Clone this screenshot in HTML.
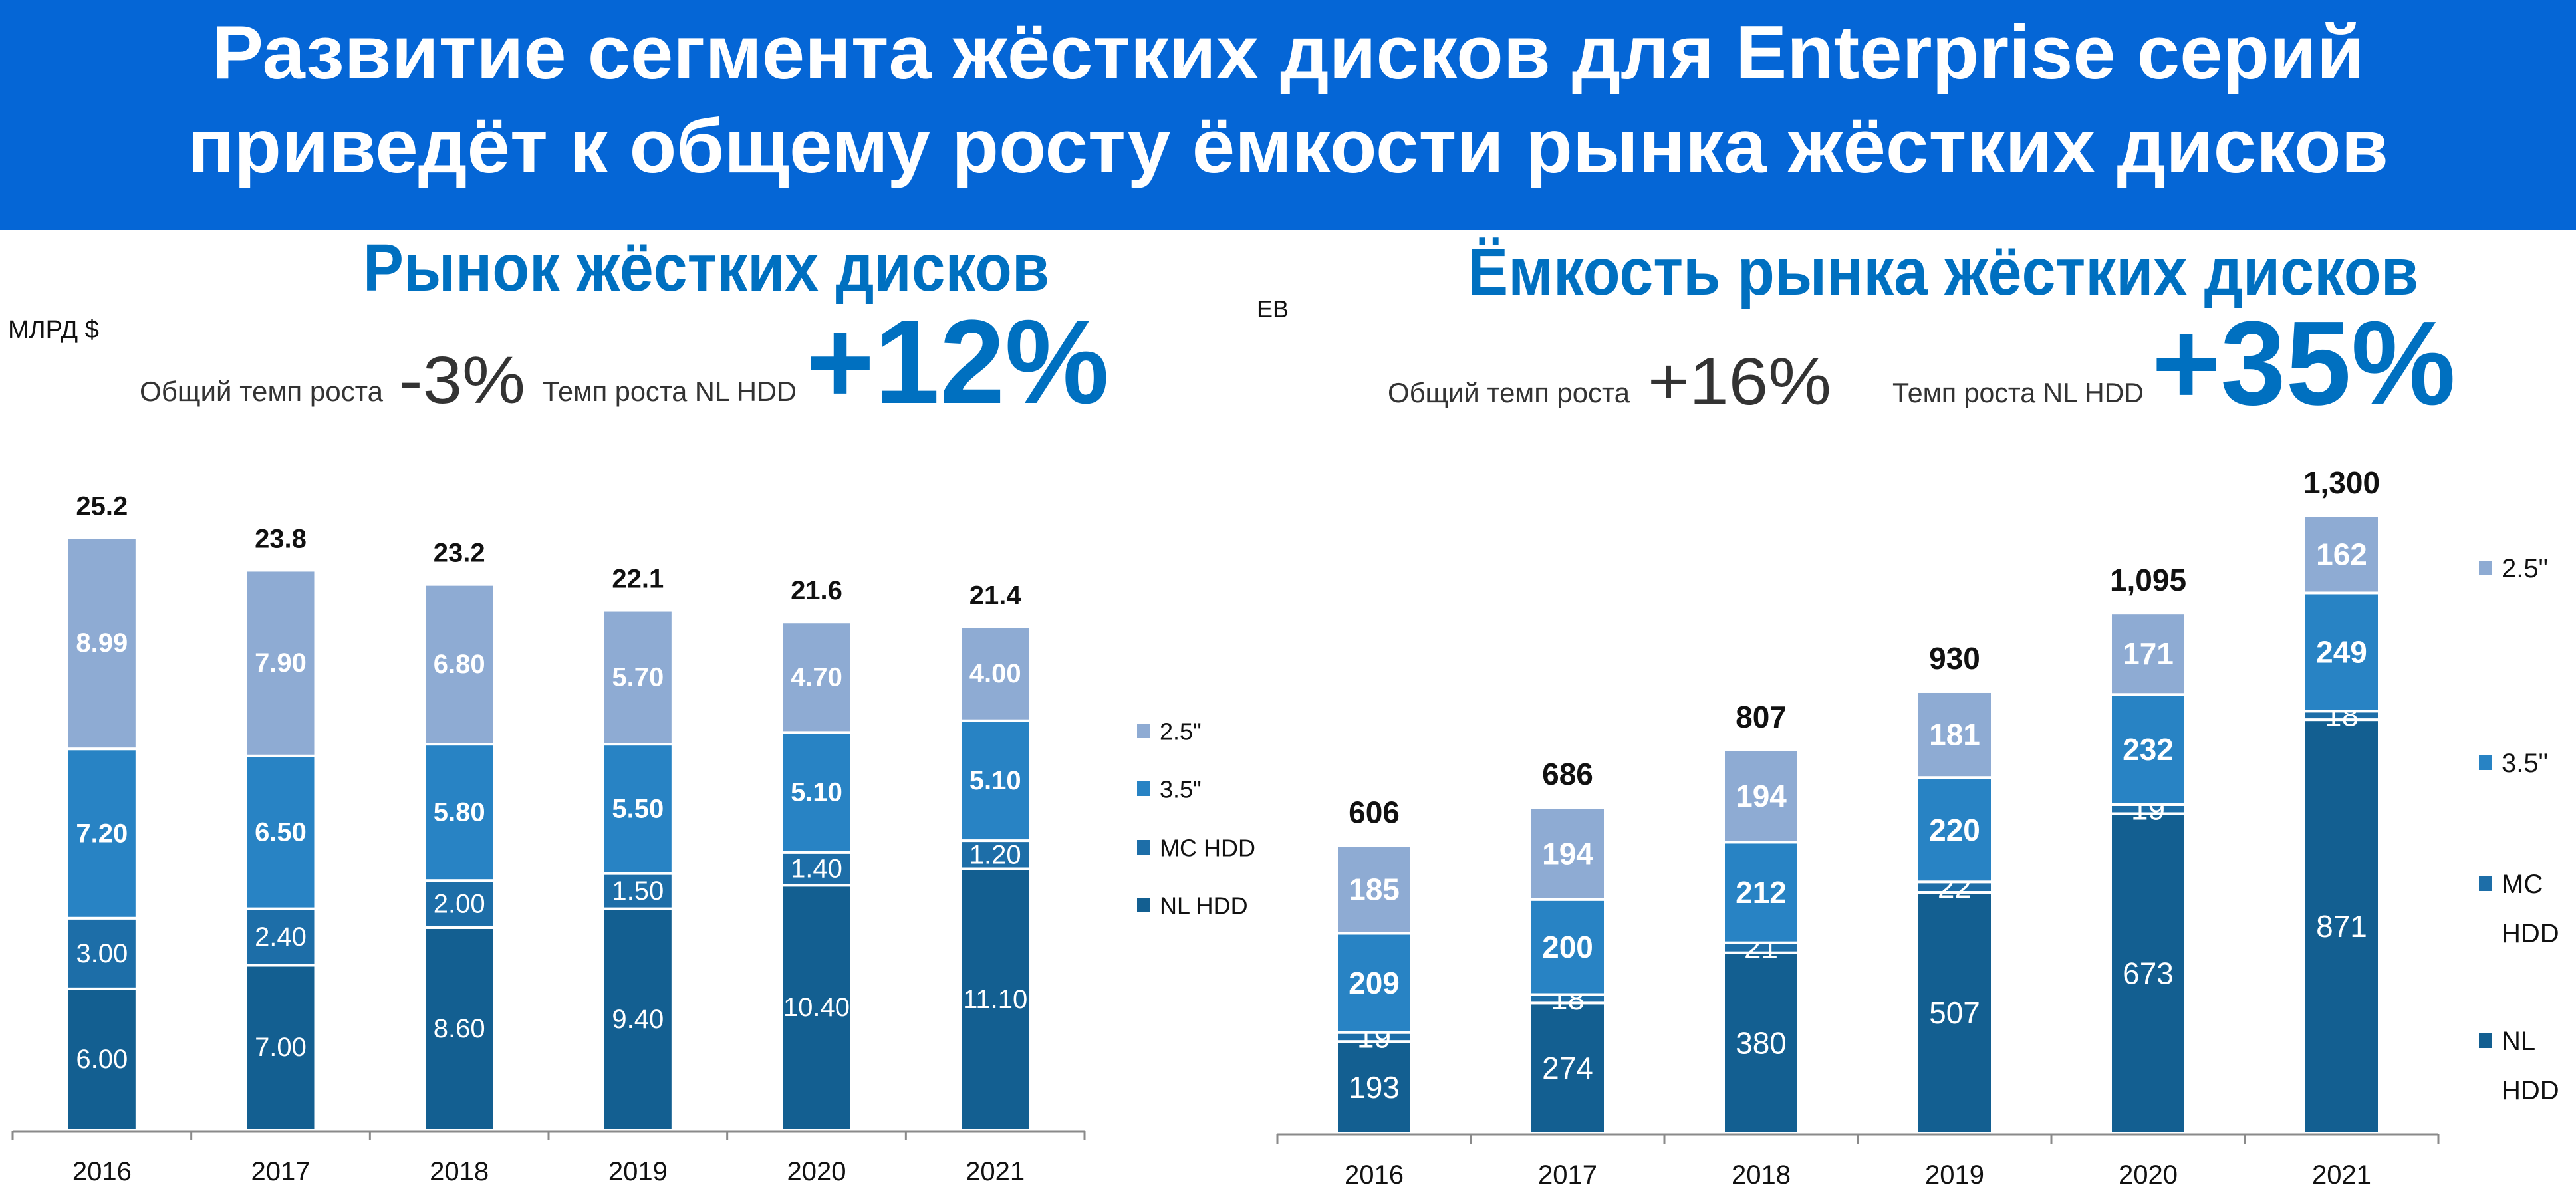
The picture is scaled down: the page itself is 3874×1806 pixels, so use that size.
<!DOCTYPE html>
<html><head><meta charset="utf-8"><style>
html,body{margin:0;padding:0;background:#fff}
svg{display:block}
text{font-family:"Liberation Sans","DejaVu Sans",sans-serif}
.n{font-family:"Liberation Sans Narrow","Liberation Sans",sans-serif}
</style></head><body>
<svg id="s" width="3874" height="1806" viewBox="0 0 3874 1806" xmlns="http://www.w3.org/2000/svg">
<rect x="0" y="0" width="3874" height="346" fill="#0566d6"/>
<text x="1937" y="118" text-anchor="middle" font-size="114" font-weight="bold" fill="#fff" textLength="3236" lengthAdjust="spacingAndGlyphs">Развитие сегмента жёстких дисков для Enterprise серий</text>
<text x="1937" y="259" text-anchor="middle" font-size="114" font-weight="bold" fill="#fff" textLength="3310" lengthAdjust="spacingAndGlyphs">приведёт к общему росту ёмкости рынка жёстких дисков</text>

<text x="1062" y="437" text-anchor="middle" font-size="100" font-weight="bold" fill="#0070c0" textLength="1032" lengthAdjust="spacingAndGlyphs">Рынок жёстких дисков</text>
<text class="n" x="12" y="508" font-size="38" fill="#111">МЛРД $</text>
<text class="n" x="210" y="603" font-size="42" fill="#333" textLength="366" lengthAdjust="spacingAndGlyphs">Общий темп роста</text>
<text class="n" x="600" y="606" font-size="100" fill="#333" textLength="190" lengthAdjust="spacingAndGlyphs">-3%</text>
<text class="n" x="816" y="603" font-size="42" fill="#333" textLength="382" lengthAdjust="spacingAndGlyphs">Темп роста NL HDD</text>
<text x="1212" y="606" font-size="180" font-weight="bold" fill="#0070c0" textLength="456" lengthAdjust="spacingAndGlyphs">+12%</text>

<text x="2922" y="443" text-anchor="middle" font-size="100" font-weight="bold" fill="#0070c0" textLength="1430" lengthAdjust="spacingAndGlyphs">Ёмкость рынка жёстких дисков</text>
<text class="n" x="1890" y="477" font-size="36" fill="#111">EB</text>
<text class="n" x="2087" y="605" font-size="42" fill="#333" textLength="364" lengthAdjust="spacingAndGlyphs">Общий темп роста</text>
<text class="n" x="2478" y="608" font-size="100" fill="#333" textLength="276" lengthAdjust="spacingAndGlyphs">+16%</text>
<text class="n" x="2846" y="605" font-size="42" fill="#333" textLength="378" lengthAdjust="spacingAndGlyphs">Темп роста NL HDD</text>
<text x="3236" y="608" font-size="180" font-weight="bold" fill="#0070c0" textLength="457" lengthAdjust="spacingAndGlyphs">+35%</text>
<g id="charts"></g>
</svg>
<script>
const years = ["2016","2017","2018","2019","2020","2021"];
const leftNL = [6.00,7.00,8.60,9.40,10.40,11.10];
const leftMC = [3.00,2.40,2.00,1.50,1.40,1.20];
const left35 = [7.20,6.50,5.80,5.50,5.10,5.10];
const left25 = [8.99,7.90,6.80,5.70,4.70,4.00];
const leftTotals = ["25.2","23.8","23.2","22.1","21.6","21.4"];
const rightNL = [193,274,380,507,673,871];
const rightMC = [19,18,21,22,19,18];
const right35 = [209,200,212,220,232,249];
const right25 = [185,194,194,181,171,162];
const rightTotals = ["606","686","807","930","1,095","1,300"];
const seriesNames = ["NL HDD","MC HDD","3.5\"","2.5\""];

const NS="http://www.w3.org/2000/svg";
const root=document.getElementById('charts');
const colors=["#135f91","#1d6ea8","#2883c4","#8eabd3"];
function mk(tag,attrs,parent){const e=document.createElementNS(NS,tag);for(const k in attrs)e.setAttribute(k,attrs[k]);(parent||root).appendChild(e);return e;}

function chart(cfg){
  const g=mk('g',{});
  
  
  const band=(cfg.x1-cfg.x0)/years.length;
  const xc=i=>cfg.x0+band*(i+0.5);
  const yv=v=>cfg.base-v*cfg.scale;
  const series=[cfg.nl,cfg.mc,cfg.s35,cfg.s25];
  years.forEach((yr,i)=>{
    let cum=0;
    const x=xc(i)-cfg.bw/2;
    series.forEach((arr,si)=>{
      const v=arr[i];
      const yt=yv(cum+v), yb=yv(cum);
      const r=mk('rect',{x:x,y:yt,width:cfg.bw,height:yb-yt,fill:colors[si],stroke:'#fff','stroke-width':4},g);
      
      
      const t=mk('text',{x:xc(i),y:(yt+yb)/2,'text-anchor':'middle','dominant-baseline':'central','font-size':cfg.lf,fill:'#fff','font-weight':si>=2?'bold':'normal',class:'n'},g);
      t.textContent=cfg.fmt(v);
      
      
      cum+=v;
    });
    const tt=mk('text',{x:xc(i),y:yv(cum)-34,'text-anchor':'middle','font-size':cfg.tf,'font-weight':'bold',fill:'#111',class:'n'},g);
    tt.textContent=cfg.totals[i];
    
    
    const yl=mk('text',{x:xc(i),y:cfg.base+76,'text-anchor':'middle','font-size':40,fill:'#111',class:'n'},g);
    yl.textContent=yr;
    
    
  });
  const ax=mk('line',{x1:cfg.x0,x2:cfg.x1,y1:cfg.base+2,y2:cfg.base+2,stroke:'#8a8a8a','stroke-width':3},g);
  
  
  for(let i=0;i<=years.length;i++){
    const tk=mk('line',{x1:cfg.x0+band*i,x2:cfg.x0+band*i,y1:cfg.base+2,y2:cfg.base+16,stroke:'#8a8a8a','stroke-width':3},g);
    
    
  }
  cfg.legend.forEach((L,k)=>{
    const si=3-k;
    const sq=mk('rect',{x:cfg.lx,y:L.y-12,width:20,height:22,fill:colors[si]},g);
    
    
    L.lines.forEach((ln,j)=>{
      const t=mk('text',{x:cfg.lx+34,y:L.y+j*cfg.lh,'dominant-baseline':'central','font-size':cfg.lgf,fill:'#111',class:'n'},g);
      t.textContent=ln;
      
      
    });
  });
}
chart({name:'left-chart',x0:19,x1:1631,base:1699,scale:35.36,bw:105,nl:leftNL,mc:leftMC,s35:left35,s25:left25,totals:leftTotals,lf:40,tf:40,fmt:v=>v.toFixed(2),
  lx:1710,lgf:36,lh:0,legend:[{y:1100,lines:[seriesNames[3]]},{y:1187,lines:[seriesNames[2]]},{y:1275,lines:[seriesNames[1]]},{y:1362,lines:[seriesNames[0]]}]});
chart({name:'right-chart',x0:1921,x1:3667,base:1704,scale:0.714,bw:113,nl:rightNL,mc:rightMC,s35:right35,s25:right25,totals:rightTotals,lf:46,tf:46,fmt:v=>String(v),
  lx:3728,lgf:40,lh:74,legend:[{y:855,lines:[seriesNames[3]]},{y:1148,lines:[seriesNames[2]]},{y:1330,lines:["MC","HDD"]},{y:1566,lines:["NL","HDD"]}]});
</script>
</body></html>
